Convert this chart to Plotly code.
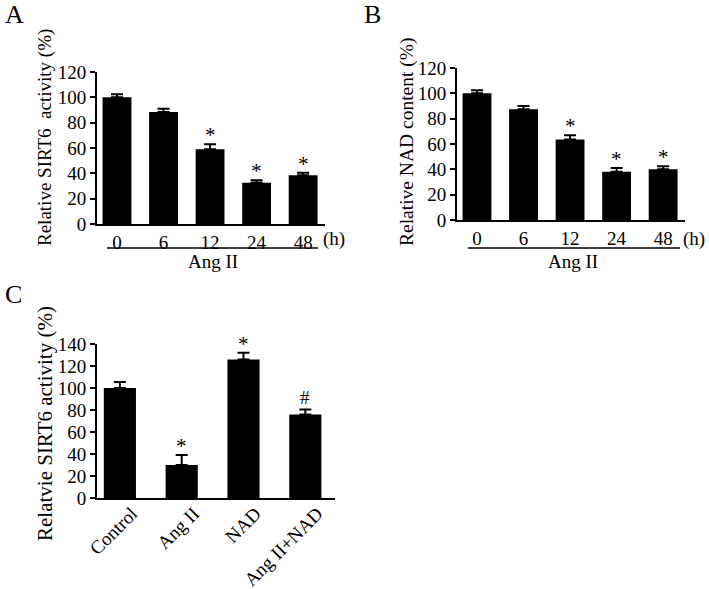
import plotly.graph_objects as go

# ---- data ----
time_labels = ["0", "6", "12", "24", "48"]
sirt6_activity = [100, 88.5, 59, 32.5, 38.5]
sirt6_err = [2.5, 2.5, 4, 2, 2]
sirt6_sig = ["", "", "*", "*", "*"]

nad_content = [100, 87.5, 63.5, 38, 40]
nad_err = [2.5, 2.5, 3.5, 3, 2.5]
nad_sig = ["", "", "*", "*", "*"]

groups_c = ["Control", "Ang II", "NAD", "Ang II+NAD"]
sirt6_c = [100, 30, 126, 76]
sirt6_c_err = [5.5, 9, 6, 4.5]
sig_c = ["", "*", "*", "#"]

W, H = 709, 589
FONT = "Liberation Serif"

def px(x):
    return x / W

def py(y):
    return 1 - y / H

fig = go.Figure()

def add_bars(xa, ya, cats, vals, errs, width):
    fig.add_trace(go.Bar(
        x=cats, y=vals, xaxis=xa, yaxis=ya,
        marker=dict(color="black", line=dict(width=0)),
        width=width,
        error_y=dict(type="data", symmetric=False, array=errs,
                     arrayminus=[0] * len(errs), color="black",
                     thickness=2, width=6),
        showlegend=False, hoverinfo="skip",
    ))

add_bars("x", "y", time_labels, sirt6_activity, sirt6_err, 0.62)
add_bars("x2", "y2", time_labels, nad_content, nad_err, 0.62)
add_bars("x3", "y3", groups_c, sirt6_c, sirt6_c_err, 0.52)

axis_common = dict(showline=True, linecolor="black", linewidth=2,
                   showgrid=False, zeroline=False, automargin=False,
                   tickfont=dict(family=FONT, size=19, color="black"))

yaxis_common = dict(axis_common, ticks="outside", ticklen=5, tickwidth=2,
                    tickcolor="black")
xaxis_common = dict(axis_common, ticks="", type="category")

fig.update_layout(
    width=W, height=H,
    margin=dict(l=0, r=0, t=0, b=0, autoexpand=False),
    paper_bgcolor="white", plot_bgcolor="white",
    xaxis=dict(xaxis_common, domain=[px(97), px(325)], range=[-0.43, 4.47],
               anchor="y"),
    yaxis=dict(yaxis_common, domain=[py(224), py(72)], range=[0, 120],
               dtick=20, anchor="x"),
    xaxis2=dict(xaxis_common, domain=[px(457), px(685)], range=[-0.43, 4.47],
                anchor="y2"),
    yaxis2=dict(yaxis_common, domain=[py(220), py(68)], range=[0, 120],
                dtick=20, anchor="x2"),
    xaxis3=dict(xaxis_common, domain=[px(97), px(335)], range=[-0.37, 3.48],
                tickangle=-45, anchor="y3", ticklabelshift=12,
                ticklabelstandoff=-5,
                tickfont=dict(family=FONT, size=19, color="black")),
    yaxis3=dict(yaxis_common, domain=[py(498), py(344)], range=[0, 140],
                dtick=20, anchor="x3"),
)

ann = []

def sig_marks(xref, yref, vals, errs, sigs):
    for i, (v, e, s) in enumerate(zip(vals, errs, sigs)):
        if s:
            is_star = s == "*"
            ann.append(dict(x=i, y=v + e, xref=xref, yref=yref, text=s,
                            showarrow=False, yanchor="bottom",
                            yshift=-5 if is_star else -1,
                            font=dict(family=FONT, size=21 if is_star else 19,
                                      color="black")))

sig_marks("x", "y", sirt6_activity, sirt6_err, sirt6_sig)
sig_marks("x2", "y2", nad_content, nad_err, nad_sig)
sig_marks("x3", "y3", sirt6_c, sirt6_c_err, sig_c)

def txt(x, y, s, size=18, angle=0, xanchor="center"):
    ann.append(dict(x=px(x), y=py(y), xref="paper", yref="paper", text=s,
                    showarrow=False, textangle=angle,
                    xanchor=xanchor, yanchor="middle",
                    font=dict(family=FONT, size=size, color="black")))

# panel letters
txt(14, 14, "A", 26)
txt(373, 14, "B", 26)
txt(13, 294, "C", 26)

# y titles
txt(45, 138, "Relative SIRT6  activity (%)", 19, -90)
txt(407, 142, "Relative NAD content (%)", 19.5, -90)
txt(45, 424, "Relatvie SIRT6 activity (%)", 21, -90)

# (h) and Ang II labels
txt(347, 239, "(h)", 19, xanchor="right")
txt(707, 239, "(h)", 19, xanchor="right")
txt(213, 261, "Ang II", 19)
txt(573, 261, "Ang II", 19)

fig.update_layout(annotations=ann)

shapes = [
    dict(type="line", xref="paper", yref="paper", x0=px(107), x1=px(318),
         y0=py(248), y1=py(248), line=dict(color="black", width=1.5)),
    dict(type="line", xref="paper", yref="paper", x0=px(468), x1=px(680),
         y0=py(248), y1=py(248), line=dict(color="black", width=1.5)),
]
fig.update_layout(shapes=shapes)

fig.write_html(
    "out.html",
    config={"displayModeBar": False},
    post_script="document.body.style.margin='0';document.body.style.overflow='hidden';",
)
